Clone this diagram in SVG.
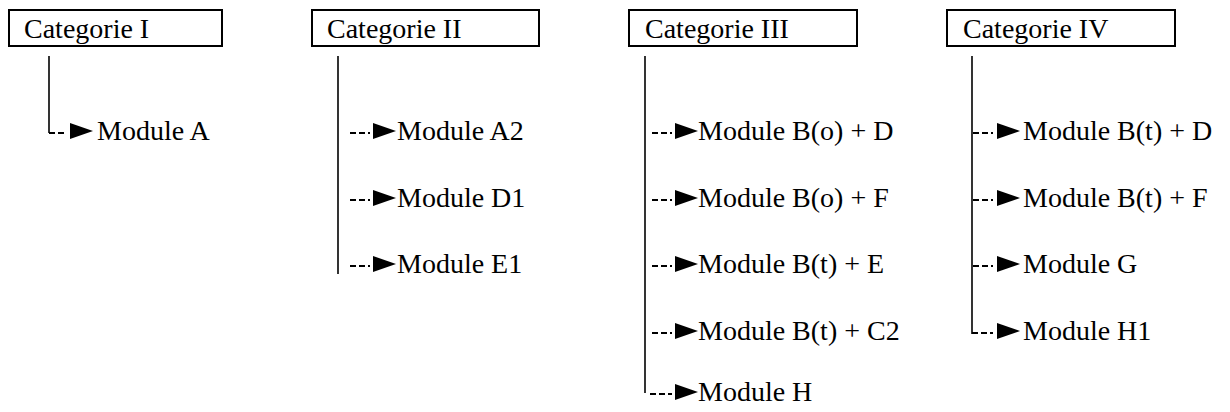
<svg xmlns="http://www.w3.org/2000/svg" width="1230" height="412" viewBox="0 0 1230 412">
<style>
text{font-family:'Liberation Serif','Times New Roman','DejaVu Serif',serif;font-size:28px;fill:#000}
.box{fill:#fff;stroke:#000;stroke-width:2}
.vl{stroke:#000;stroke-width:1.6;fill:none}
.dash{stroke:#000;stroke-width:1.8;stroke-dasharray:6 3;fill:none}
.tri{fill:#000}
</style>
<rect width="1230" height="412" fill="#fff"/>
<g id="cat1"><rect class="box" x="9" y="10" width="213" height="36"/><text x="24" y="38">Categorie I</text></g>
<g id="cat2"><rect class="box" x="312" y="10" width="227" height="36"/><text x="327" y="38">Categorie II</text></g>
<g id="cat3"><rect class="box" x="629" y="10" width="228" height="36"/><text x="645" y="38">Categorie III</text></g>
<g id="cat4"><rect class="box" x="947" y="10" width="228" height="36"/><text x="963" y="38">Categorie IV</text></g>
<g id="mA"><text x="97" y="140">Module A</text></g>
<g id="mA2"><text x="397" y="140">Module A2</text></g>
<g id="mD1"><text x="397" y="207">Module D1</text></g>
<g id="mE1"><text x="397" y="273">Module E1</text></g>
<g id="mBoD"><text x="698" y="140">Module B(o) + D</text></g>
<g id="mBoF"><text x="698" y="207">Module B(o) + F</text></g>
<g id="mBtE"><text x="698" y="273">Module B(t) + E</text></g>
<g id="mBtC2"><text x="698" y="340">Module B(t) + C2</text></g>
<g id="mH"><text x="698" y="401">Module H</text></g>
<g id="mBtD"><text x="1023" y="140">Module B(t) + D</text></g>
<g id="mBtF"><text x="1023" y="207">Module B(t) + F</text></g>
<g id="mG"><text x="1023" y="273">Module G</text></g>
<g id="mH1"><text x="1023" y="340">Module H1</text></g>
<g id="connectors">
<path class="vl" d="M49,56V133"/>
<path class="vl" d="M338,56V274"/>
<path class="vl" d="M645,56V393"/>
<path class="vl" d="M972,56V334"/>
<path class="dash" d="M49,133H66"/>
<polygon class="tri" points="70,123 93,131 70,139"/>
<path class="dash" d="M350,133H370"/><polygon class="tri" points="373,123 396,131 373,139"/>
<path class="dash" d="M350,200H370"/><polygon class="tri" points="373,190 396,198 373,206"/>
<path class="dash" d="M350,266H370"/><polygon class="tri" points="373,256 396,264 373,272"/>
<path class="dash" d="M652,133H672"/><polygon class="tri" points="675,123 698,131 675,139"/>
<path class="dash" d="M652,200H672"/><polygon class="tri" points="675,190 698,198 675,206"/>
<path class="dash" d="M652,266H672"/><polygon class="tri" points="675,256 698,264 675,272"/>
<path class="dash" d="M652,333H672"/><polygon class="tri" points="675,323 698,331 675,339"/>
<path class="dash" d="M650,394H672"/><polygon class="tri" points="675,384 698,392 675,400"/>
<path class="dash" d="M973,133H993"/><polygon class="tri" points="997,123 1020,131 997,139"/>
<path class="dash" d="M973,200H993"/><polygon class="tri" points="997,190 1020,198 997,206"/>
<path class="dash" d="M973,266H993"/><polygon class="tri" points="997,256 1020,264 997,272"/>
<path class="dash" d="M972,333H993"/><polygon class="tri" points="997,323 1020,331 997,339"/>
</g>
</svg>
